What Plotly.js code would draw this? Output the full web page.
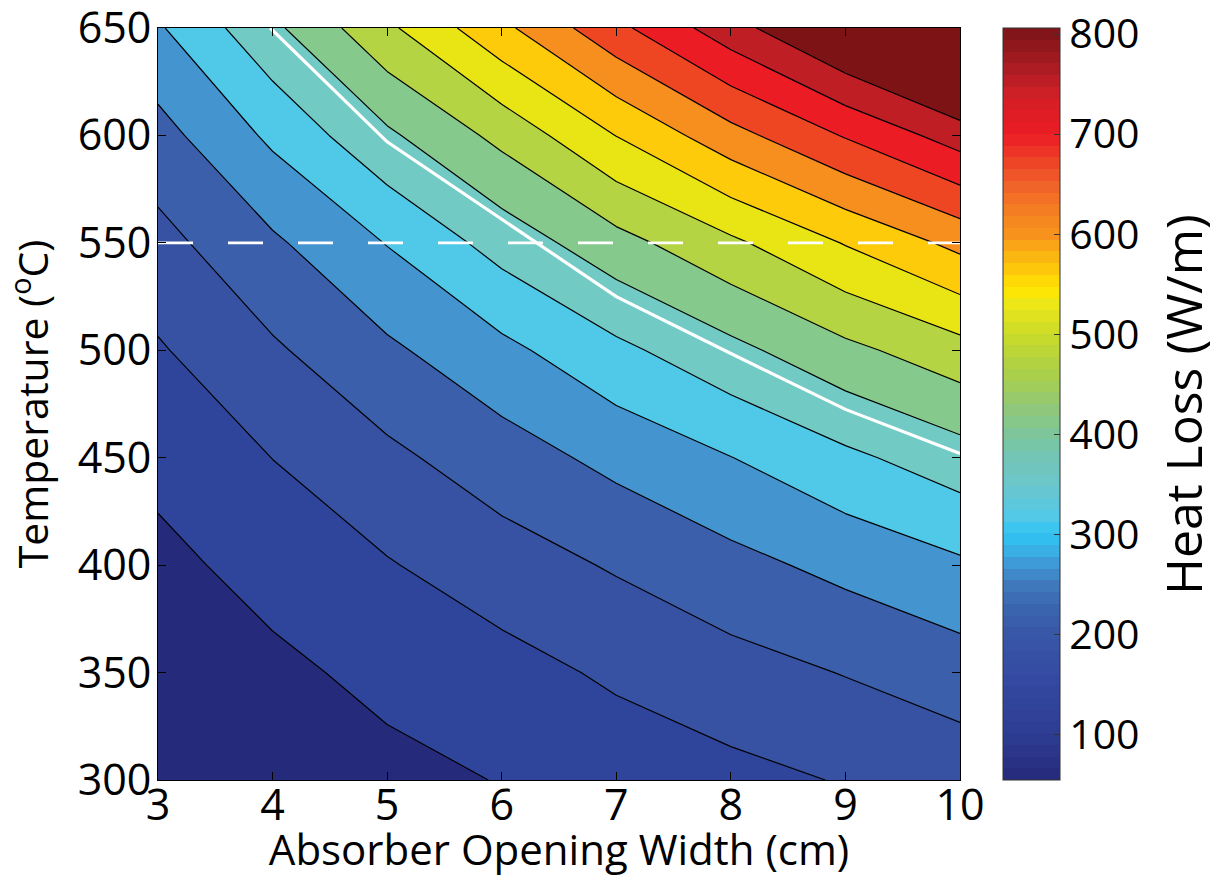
<!DOCTYPE html>
<html><head><meta charset="utf-8">
<script src="https://cdn.plot.ly/plotly-3.0.1.min.js"></script>
<style>html,body{margin:0;padding:0;background:#fff}#chart{width:1217px;height:877px}</style>
</head><body><div id="chart"></div>
<script>
// ---- data ----
const widths = [3, 4, 5, 6, 7, 8, 9, 10];                  // Absorber opening width (cm)
const temps  = [300, 350, 400, 450, 500, 550, 600, 650];   // Temperature (°C)
const heatLoss = [                                         // W/m, rows = temps, cols = widths
  [51,   67,  85, 102, 120, 136, 153, 170],
  [67.5, 88, 114, 132, 158, 181, 202, 226],
  [86,  119, 146.5, 177, 205, 235, 264, 292],
  [115, 150.5, 189, 227, 264, 299, 339, 378],
  [145, 193, 241, 287, 338, 386, 437, 481],
  [184, 242, 302, 370, 432, 490, 553, 614],
  [232, 310, 391, 464, 551, 632, 704, 774],
  [294, 389, 490, 588, 687, 780, 870, 960]
];
const contourLevels = {start: 100, end: 800, size: 50};
// fill colours of the 16 bands (below 100 ... above 800)
const bandColors = ['#262a7b','#2f459b','#3752a3','#3b5fab','#4494d0','#50c8e8','#72cac5','#85c98c',
                    '#b5d443','#e9e413','#fdcb0a','#f68f1e','#ee4623','#ec1c24','#be1e24','#7d1315'];
// white highlighted curve
const whiteX = [3.98, 5, 6, 7, 8, 9, 10];
const whiteT = [650, 597, 561, 525, 498.5, 472.5, 452];
// dashed reference temperature
const refX = [3, 10];
const refT = [550, 550];
// colour bar
const cbMin = 55, cbMax = 806;
const cbVals   = [55, 100, 150, 200, 230, 250, 270, 290, 300, 320, 350, 380, 400, 430, 460, 500, 530, 545, 565, 600, 650, 700, 740, 770, 806];
const cbColors = ['#262a7b','#2d3c92','#3448a0','#3857a7','#3c66af','#4079bd','#3f98d4','#36b9ec','#2ec4f3','#55c8e6',
                  '#6cc6cb','#74c6b4','#7dc59a','#93c975','#aacf4a','#cadb2a','#ede718','#fee600','#fdc90b','#f7941d',
                  '#f1622a','#ed1c24','#cf1f26','#a61b21','#7b1418'];
const cbTicks = [100, 200, 300, 400, 500, 600, 700, 800];

// ---- helpers ----
function hex2rgb(h){h=h.replace('#','');return [0,2,4].map(i=>parseInt(h.substr(i,2),16));}
function colorAt(v){
  if(v<=cbVals[0]) return hex2rgb(cbColors[0]);
  for(let i=1;i<cbVals.length;i++){
    if(v<=cbVals[i]){
      const t=(v-cbVals[i-1])/(cbVals[i]-cbVals[i-1]);
      const a=hex2rgb(cbColors[i-1]), b=hex2rgb(cbColors[i]);
      return a.map((c,k)=>Math.round(c+(b[k]-c)*t));
    }
  }
  return hex2rgb(cbColors[cbColors.length-1]);
}
// stepped (64-level) colour bar scale
const nSteps = 64, cbScale = [];
for(let i=0;i<nSteps;i++){
  const v = cbMin + (i+0.5)*(cbMax-cbMin)/nSteps;
  const c = 'rgb('+colorAt(v).join(',')+')';
  cbScale.push([i/nSteps, c]);
  cbScale.push([(i+1)/nSteps, c]);
}
// contour band scale: band k sits at fraction k/(nBands-1)
const bandScale = bandColors.map((c,k)=>[k/(bandColors.length-1), c]);

const FONT = 'Open Sans, Lato, Arial, sans-serif';

const traces = [
  {
    type: 'contour', x: widths, y: temps, z: heatLoss,
    autocontour: false,
    contours: {start: contourLevels.start, end: contourLevels.end, size: contourLevels.size, coloring: 'fill', showlines: true},
    line: {color: '#000', width: 1.2, smoothing: 0},
    colorscale: bandScale, showscale: false, hoverinfo: 'skip'
  },
  {
    type: 'scatter', mode: 'lines', x: whiteX, y: whiteT,
    line: {color: '#ffffff', width: 3.2}, hoverinfo: 'skip', showlegend: false
  },
  {
    type: 'scatter', mode: 'lines', x: refX, y: refT,
    line: {color: '#ffffff', width: 2.8, dash: '35px,35px'}, hoverinfo: 'skip', showlegend: false
  },
  {
    type: 'scatter', mode: 'markers', x: [widths[0]], y: [temps[0]],
    marker: {size: 1, opacity: 0, color: [cbMin], cmin: cbMin, cmax: cbMax, colorscale: cbScale, showscale: true,
      colorbar: {
        x: 1.0536, xanchor: 'left', y: 0.5, yanchor: 'middle', len: 1, lenmode: 'fraction',
        thickness: 57, thicknessmode: 'pixels', xpad: 0, ypad: 0,
        outlinewidth: 1, outlinecolor: '#333', borderwidth: 0,
        ticks: 'inside', ticklen: 6, tickcolor: '#333', tickwidth: 1,
        tickmode: 'array', tickvals: cbTicks, tickprefix: '\u2009',
        ticklabeloverflow: 'allow',
        tickfont: {family: FONT, size: 41, color: '#000'}
      }},
    hoverinfo: 'skip', showlegend: false
  }
];

const axisCommon = {
  showgrid: false, zeroline: false, showline: true, mirror: 'ticks',
  linecolor: '#000', linewidth: 1, ticks: 'inside', ticklen: 8, tickcolor: '#000', tickwidth: 1,
  ticklabeloverflow: 'allow',
  tickfont: {family: FONT, size: 43, color: '#000'}
};

const layout = {
  width: 1217, height: 877,
  margin: {l: 158, r: 257, t: 28, b: 97, pad: 0},
  paper_bgcolor: '#ffffff', plot_bgcolor: '#ffffff',
  font: {family: FONT, size: 40, color: '#000'},
  showlegend: false,
  xaxis: Object.assign({}, axisCommon, {
    range: [3, 10], tickmode: 'array', tickvals: widths, ticklabelstandoff: -13,
    title: {text: 'Absorber Opening Width (cm)', font: {family: FONT, size: 42, color: '#000'}, standoff: 19}
  }),
  yaxis: Object.assign({}, axisCommon, {
    range: [300, 650], tickmode: 'array', tickvals: temps, ticklabelstandoff: -3,
    title: {text: 'Temperature (<sup>o</sup>C)', font: {family: FONT, size: 41, color: '#000'}, standoff: 21}
  }),
  annotations: [{
    text: 'Heat Loss (W/m)', textangle: -90, xref: 'paper', yref: 'paper',
    x: 1.278, y: 0.5, xanchor: 'center', yanchor: 'middle', showarrow: false,
    font: {family: FONT, size: 50, color: '#000'}
  }]
};

Plotly.newPlot('chart', traces, layout, {displayModeBar: false, staticPlot: true});
</script>
</body></html>
